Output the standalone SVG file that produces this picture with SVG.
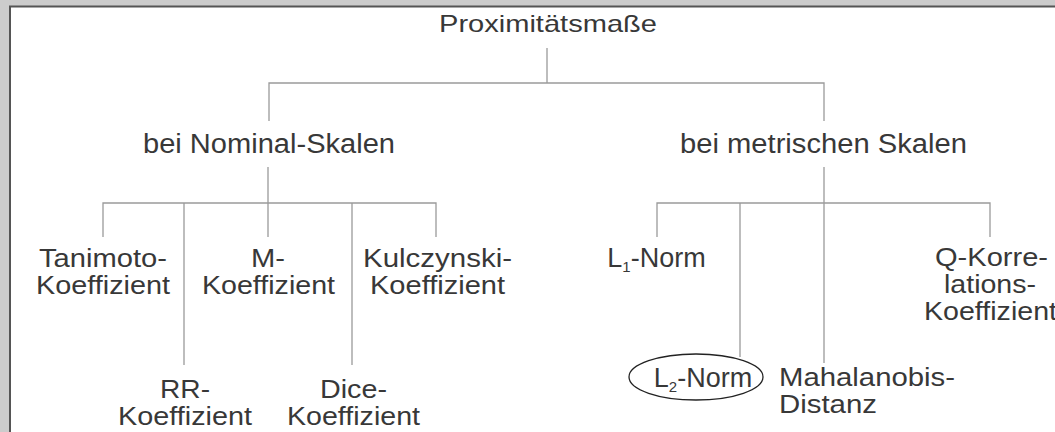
<svg xmlns="http://www.w3.org/2000/svg" width="1055" height="432" viewBox="0 0 1055 432">
  <style>
    .lbl { font-family: "Liberation Sans", Arial, sans-serif; font-size: 27px; fill: #383838; text-anchor: middle; }
    .low { font-size: 25px; }
    .start { text-anchor: start; }
    .sub { font-size: 15px; }
    .wire { fill: none; stroke: #9a9a9a; stroke-width: 1.3; }
  </style>

  <!-- page frame -->
  <rect x="0" y="0" width="1055" height="432" fill="#cccccc"/>
  <rect x="10" y="7" width="1045" height="425" fill="#ffffff"/>
  <path d="M9 6.5 H1055 M10 6 V432" stroke="#555555" stroke-width="2" fill="none"/>

  <!-- tree connectors -->
  <g id="connectors" class="wire">
    <path d="M547 48 V83"/>
    <path d="M269 121 V83 H824 V121"/>
    <path d="M268 167 V203"/>
    <path d="M103 237 V203 H436 V237"/>
    <path d="M184 203 V365"/>
    <path d="M268 203 V237"/>
    <path d="M352 203 V365"/>
    <path d="M824 167 V363"/>
    <path d="M657 237 V203 H990 V237"/>
    <path d="M740 203 V357"/>
  </g>

  <g id="root">
    <text class="lbl" x="548" y="32" style="font-size:24px" textLength="218" lengthAdjust="spacingAndGlyphs">Proximitätsmaße</text>
  </g>

  <g id="nominal">
    <text class="lbl" x="269" y="153" textLength="252" lengthAdjust="spacingAndGlyphs">bei Nominal-Skalen</text>
  </g>

  <g id="metric">
    <text class="lbl" x="823.5" y="153" textLength="287" lengthAdjust="spacingAndGlyphs">bei metrischen Skalen</text>
  </g>

  <g id="tanimoto">
    <text class="lbl low" x="103" y="267" textLength="128" lengthAdjust="spacingAndGlyphs">Tanimoto-</text>
    <text class="lbl low" x="103" y="294" textLength="134" lengthAdjust="spacingAndGlyphs">Koeffizient</text>
  </g>

  <g id="m-koeff">
    <text class="lbl low" x="268" y="267" textLength="34" lengthAdjust="spacingAndGlyphs">M-</text>
    <text class="lbl low" x="268.5" y="294" textLength="133" lengthAdjust="spacingAndGlyphs">Koeffizient</text>
  </g>

  <g id="kulczynski">
    <text class="lbl low" x="437.5" y="267" textLength="149" lengthAdjust="spacingAndGlyphs">Kulczynski-</text>
    <text class="lbl low" x="437.5" y="294" textLength="135" lengthAdjust="spacingAndGlyphs">Koeffizient</text>
  </g>

  <g id="rr-koeff">
    <text class="lbl low" x="185" y="398" textLength="50" lengthAdjust="spacingAndGlyphs">RR-</text>
    <text class="lbl low" x="185" y="425" textLength="134" lengthAdjust="spacingAndGlyphs">Koeffizient</text>
  </g>

  <g id="dice">
    <text class="lbl low" x="353.5" y="398" textLength="67" lengthAdjust="spacingAndGlyphs">Dice-</text>
    <text class="lbl low" x="353.5" y="425" textLength="133" lengthAdjust="spacingAndGlyphs">Koeffizient</text>
  </g>

  <g id="l1-norm">
    <text class="lbl" x="656.5" y="267" style="font-size:27px">L<tspan class="sub" dy="5">1</tspan><tspan dy="-5">-Norm</tspan></text>
  </g>

  <g id="l2-norm">
    <ellipse cx="696" cy="377" rx="67" ry="23" fill="none" stroke="#222222" stroke-width="1.3"/>
    <text class="lbl" x="703" y="387" style="font-size:27px">L<tspan class="sub" dy="5">2</tspan><tspan dy="-5">-Norm</tspan></text>
  </g>

  <g id="mahalanobis">
    <text class="lbl low start" x="779" y="386" textLength="176" lengthAdjust="spacingAndGlyphs">Mahalanobis-</text>
    <text class="lbl low start" x="779" y="413" textLength="98" lengthAdjust="spacingAndGlyphs">Distanz</text>
  </g>

  <g id="q-korrelation">
    <text class="lbl low" x="991.5" y="266" textLength="113" lengthAdjust="spacingAndGlyphs">Q-Korre-</text>
    <text class="lbl low" x="990" y="293" textLength="92" lengthAdjust="spacingAndGlyphs">lations-</text>
    <text class="lbl low" x="990.5" y="320" textLength="133" lengthAdjust="spacingAndGlyphs">Koeffizient</text>
  </g>
</svg>
